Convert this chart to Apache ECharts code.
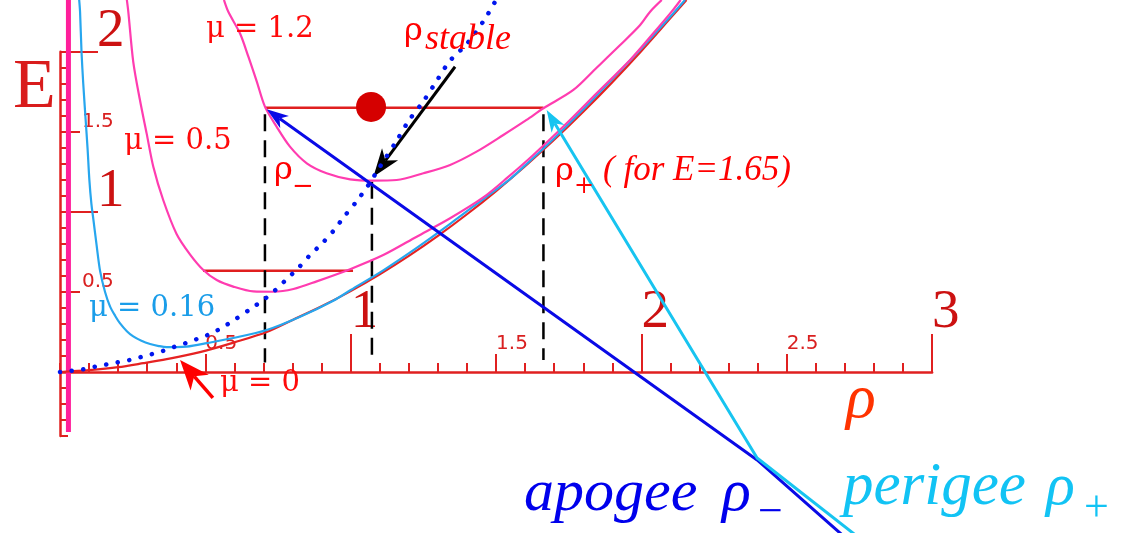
<!DOCTYPE html>
<html>
<head>
<meta charset="utf-8">
<script src="https://cdn.jsdelivr.net/npm/echarts@6/dist/echarts.min.js"></script>
<style>
  html, body { margin: 0; padding: 0; background: #ffffff; }
  #chart { width: 1124px; height: 533px; }
</style>
</head>
<body>
<div id="chart"></div>
<script>
// Effective-potential curves E(rho), one per angular momentum mu, as [rho, E] pairs
const curveMu12 = [[0.564,2.323],[0.579,2.249],[0.619,2.115],[0.648,1.969],[0.677,1.813],[0.705,1.657],[0.745,1.532],[0.791,1.407],[0.849,1.303],[0.917,1.241],[0.998,1.203],[1.078,1.195],[1.158,1.199],[1.25,1.241],[1.342,1.293],[1.433,1.376],[1.525,1.48],[1.605,1.574],[1.663,1.647],[1.766,1.761],[1.846,1.9],[1.926,2.04],[1.995,2.165],[2.03,2.25],[2.07,2.323]];
const curveMu05 = [[0.23,2.323],[0.235,2.249],[0.252,1.937],[0.275,1.698],[0.298,1.49],[0.321,1.282],[0.355,1.074],[0.401,0.862],[0.447,0.735],[0.493,0.637],[0.539,0.574],[0.596,0.533],[0.665,0.503],[0.734,0.501],[0.803,0.518],[0.883,0.566],[0.998,0.642],[1.112,0.73],[1.227,0.845],[1.342,0.96],[1.456,1.09],[1.54,1.215],[1.628,1.355],[1.743,1.553],[1.846,1.74],[1.961,1.948],[2.041,2.115],[2.104,2.25],[2.135,2.323]];
const curveMu016 = [[0.066,2.323],[0.069,2.249],[0.074,2.0],[0.08,1.8],[0.088,1.58],[0.095,1.39],[0.101,1.2],[0.108,1.05],[0.115,0.95],[0.126,0.79],[0.138,0.63],[0.155,0.5],[0.172,0.41],[0.19,0.35],[0.206,0.305],[0.23,0.255],[0.252,0.222],[0.28,0.195],[0.31,0.175],[0.34,0.162],[0.367,0.155],[0.4,0.155],[0.436,0.158],[0.505,0.18],[0.596,0.212],[0.711,0.262],[0.826,0.345],[0.94,0.445],[1.0,0.512],[1.112,0.635],[1.227,0.775],[1.342,0.925],[1.456,1.08],[1.548,1.205],[1.6,1.29],[1.7,1.46],[1.8,1.64],[1.9,1.83],[2.0,2.02],[2.1,2.22],[2.15,2.323]];
const curveMu0 = [[0,0],[0.1,0.012],[0.2,0.03],[0.287,0.055],[0.367,0.08],[0.459,0.115],[0.505,0.135],[0.6,0.185],[0.711,0.25],[0.8,0.325],[0.9,0.41],[1.0,0.505],[1.1,0.61],[1.2,0.725],[1.3,0.85],[1.4,0.985],[1.5,1.13],[1.6,1.285],[1.7,1.45],[1.8,1.625],[1.9,1.81],[2.0,2.005],[2.1,2.21],[2.155,2.323]];
// Locus of the stable (circular-orbit) radius
const stableLocus = [[0,0],[0.04,0.008],[0.08,0.017],[0.12,0.033],[0.16,0.047],[0.2,0.061],[0.24,0.075],[0.28,0.094],[0.32,0.114],[0.36,0.135],[0.4,0.161],[0.44,0.185],[0.48,0.212],[0.52,0.24],[0.56,0.28],[0.6,0.325],[0.66,0.4],[0.7,0.45],[0.74,0.51],[0.78,0.58],[0.82,0.65],[0.86,0.73],[0.9,0.8],[0.94,0.88],[0.98,0.976],[1.02,1.065],[1.06,1.165],[1.1,1.28],[1.16,1.45],[1.2,1.57],[1.25,1.69],[1.3,1.83],[1.34,1.94],[1.4,2.05],[1.46,2.2],[1.5,2.323]];
// Energy levels and turning points
const energyHigh = [[0.705,1.65],[1.663,1.65]];
const energyLow = [[0.492,0.632],[1.008,0.632]];
const particle = [[1.07,1.655]];
const dropMinus = [[0.705,1.61],[0.705,0.06]];
const dropStable = [[1.073,1.188],[1.073,0.075]];
const dropPlus = [[1.663,1.61],[1.663,0.075]];
const wall = [[0.029,-0.375],[0.029,2.323]];
// Pointer arrows, tip first
const apogeeArrow = [[0.711,1.64],[2.398,-0.549],[2.73,-1.08]];
const perigeeArrow = [[1.674,1.636],[2.398,-0.537],[2.78,-1.08]];
const stableArrow = [[1.078,1.219],[1.359,1.906]];
const muZeroArrow = [[0.413,0.075],[0.526,-0.162]];
// Axis ticks
const xHalfTicks = [0.5, 1.5, 2.5];
const xMajorTicks = [1, 2, 3];
const yHalfTicks = [0.5, 1.5];
const yMajorTicks = [1, 2];

const AXIS_RED = '#e02020';
const MAGENTA = '#ff3cb0';

const chart = echarts.init(document.getElementById('chart'), null, { renderer: 'canvas' });

function xLayer(extra) {
  return Object.assign({
    type: 'value', min: 0, max: 3, position: 'bottom',
    axisLine: { show: true, onZero: true, lineStyle: { color: 'rgba(0,0,0,0)', width: 0 } },
    splitLine: { show: false }, axisLabel: { show: false }
  }, extra);
}
function yLayer(extra) {
  return Object.assign({
    type: 'value', min: -0.4, max: 2, position: 'left', offset: 0,
    axisLine: { show: true, onZero: false, lineStyle: { color: 'rgba(0,0,0,0)', width: 0 } },
    splitLine: { show: false }, axisLabel: { show: false }
  }, extra);
}
const bigFont = { fontFamily: 'Liberation Serif', fontSize: 55, color: '#cc1111', lineHeight: 40 };
const smallFont = { fontFamily: 'DejaVu Sans', fontSize: 20, color: '#d92020', lineHeight: 20 };

function plain(data, color, width, extra) {
  return Object.assign({
    type: 'line', data: data, symbol: 'none', clip: false, silent: true, animation: false,
    lineStyle: { color: color, width: width }
  }, extra || {});
}
function arrow(points, color, width, headLen, headWidth, z) {
  return {
    type: 'custom', coordinateSystem: 'cartesian2d', clip: false, silent: true, z: z,
    data: [points[0]],
    renderItem: function (params, api) {
      const px = points.map(function (p) { return api.coord(p); });
      const tip = px[0], nxt = px[1];
      const dx = nxt[0] - tip[0], dy = nxt[1] - tip[1];
      const len = Math.hypot(dx, dy);
      const ux = dx / len, uy = dy / len, nx = -uy, ny = ux;
      const bx = tip[0] + ux * headLen, by = tip[1] + uy * headLen;
      const notch = [tip[0] + ux * headLen * 0.72, tip[1] + uy * headLen * 0.72];
      const shaft = [notch].concat(px.slice(1));
      return {
        type: 'group',
        children: [
          { type: 'polyline', shape: { points: shaft }, style: { stroke: color, lineWidth: width, fill: null, lineJoin: 'round' } },
          { type: 'polygon', shape: { points: [tip, [bx + nx * headWidth / 2, by + ny * headWidth / 2], notch, [bx - nx * headWidth / 2, by - ny * headWidth / 2]] }, style: { fill: color } }
        ]
      };
    }
  };
}
function txt(text, x, baseline, size, family, color, fontStyle) {
  return {
    type: 'text', x: x, y: baseline - 0.31 * size, silent: true, z: 100,
    style: {
      text: text, fill: color, align: 'left', verticalAlign: 'middle',
      font: (fontStyle || '') + ' ' + size + 'px ' + family
    }
  };
}
const SERIF = "'Liberation Serif'";
const DSERIF = "'DejaVu Serif'";

chart.setOption({
  animation: false,
  backgroundColor: '#ffffff',
  grid: { left: 60, top: 51.7, width: 872.1, height: 384.36, containLabel: false, show: false },
  xAxis: [
    xLayer({ interval: 0.1, axisLine: { show: true, onZero: true, lineStyle: { color: AXIS_RED, width: 2.5 } },
      axisTick: { show: true, inside: true, length: 9, lineStyle: { color: AXIS_RED, width: 2 } } }),
    xLayer({ axisTick: { show: true, inside: true, length: 18, customValues: xHalfTicks, lineStyle: { color: AXIS_RED, width: 2 } },
      axisLabel: Object.assign({ show: true, inside: true, margin: 82, align: 'left', verticalAlign: 'bottom', customValues: xHalfTicks }, smallFont) }),
    xLayer({ axisTick: { show: true, inside: true, length: 38, customValues: xMajorTicks, lineStyle: { color: AXIS_RED, width: 2 } },
      axisLabel: Object.assign({ show: true, inside: true, margin: 103, align: 'left', verticalAlign: 'bottom', customValues: xMajorTicks }, bigFont) })
  ],
  yAxis: [
    yLayer({ interval: 0.1, axisLine: { show: true, onZero: false, lineStyle: { color: AXIS_RED, width: 2.5 } },
      axisTick: { show: true, inside: true, length: 8, lineStyle: { color: AXIS_RED, width: 2 } } }),
    yLayer({ axisTick: { show: true, inside: true, length: 20, customValues: yHalfTicks, lineStyle: { color: AXIS_RED, width: 2 } },
      axisLabel: Object.assign({ show: true, inside: true, margin: 22, align: 'left', verticalAlign: 'bottom', customValues: yHalfTicks }, smallFont) }),
    yLayer({ axisTick: { show: true, inside: true, length: 38, customValues: yMajorTicks, lineStyle: { color: AXIS_RED, width: 2 } },
      axisLabel: Object.assign({ show: true, inside: true, margin: 37, align: 'left', verticalAlign: 'bottom', customValues: yMajorTicks }, bigFont) })
  ],
  series: [
    plain(wall, '#ff1f9b', 5, { z: 3 }),
    plain(energyHigh, '#e01f1f', 2.5, { z: 4 }),
    plain(energyLow, '#e01f1f', 2.5, { z: 4 }),
    plain(dropMinus, '#000000', 2.5, { z: 4, lineStyle: { color: '#000000', width: 2.5, type: [17, 9] } }),
    plain(dropStable, '#000000', 2.5, { z: 4, lineStyle: { color: '#000000', width: 2.5, type: [17, 9] } }),
    plain(dropPlus, '#000000', 2.5, { z: 4, lineStyle: { color: '#000000', width: 2.5, type: [17, 9] } }),
    plain(curveMu0, '#e62222', 2.2, { z: 5, smooth: 0.3 }),
    plain(curveMu016, '#27a6ee', 2.2, { z: 6, smooth: 0.3 }),
    plain(curveMu05, MAGENTA, 2.2, { z: 6, smooth: 0.3 }),
    plain(curveMu12, MAGENTA, 2.2, { z: 6, smooth: 0.3 }),
    arrow(stableArrow, '#000000', 3, 28, 20, 7),
    plain(stableLocus, '#0016ee', 4.5, { z: 8, smooth: 0.3, lineStyle: { color: '#0016ee', width: 4.5, type: [0.1, 11.6], cap: 'round' } }),
    arrow(apogeeArrow, '#0a0ae6', 3, 22, 15, 9),
    arrow(perigeeArrow, '#17c4f0', 3, 22, 15, 9),
    arrow(muZeroArrow, '#ff0000', 3.5, 30, 24, 9),
    { type: 'scatter', data: particle, symbol: 'circle', symbolSize: 30, silent: true, z: 10,
      itemStyle: { color: '#d50000', opacity: 1 } }
  ],
  graphic: [
    txt('E', 13, 110, 70, SERIF, '#d91c1c'),
    txt('μ = 1.2', 206, 38, 29, DSERIF, '#ff0a0a'),
    txt('μ = 0.5', 124, 150, 29, DSERIF, '#ff0a0a'),
    txt('μ = 0.16', 89, 317, 29, DSERIF, '#1a9de9'),
    txt('μ = 0', 220, 392, 29, DSERIF, '#ff0a0a'),
    txt('ρ', 404, 42, 32, DSERIF, '#ff0000'),
    txt('stable', 425, 51, 36, SERIF, '#ff0000', 'italic'),
    txt('ρ', 274, 181, 32, DSERIF, '#ff0000'),
    txt('−', 292, 195, 26, DSERIF, '#ff0000'),
    txt('ρ', 555, 182, 32, DSERIF, '#ff0000'),
    txt('+', 574, 194, 24, DSERIF, '#ff0000'),
    txt('( for E=1.65)', 603, 182, 35, SERIF, '#ff0000', 'italic'),
    txt('ρ', 846, 420, 62, SERIF, '#ff3300', 'italic'),
    txt('apogee', 524, 513, 60, SERIF, '#0000ec', 'italic'),
    txt('ρ', 722, 513, 60, SERIF, '#0000ec', 'italic'),
    txt('−', 758, 527, 44, SERIF, '#0000ec'),
    txt('perigee', 843, 507, 61, SERIF, '#12c3f4', 'italic'),
    txt('ρ', 1046, 507, 60, SERIF, '#12c3f4', 'italic'),
    txt('+', 1084, 523, 44, SERIF, '#12c3f4')
  ]
});
</script>
</body>
</html>
